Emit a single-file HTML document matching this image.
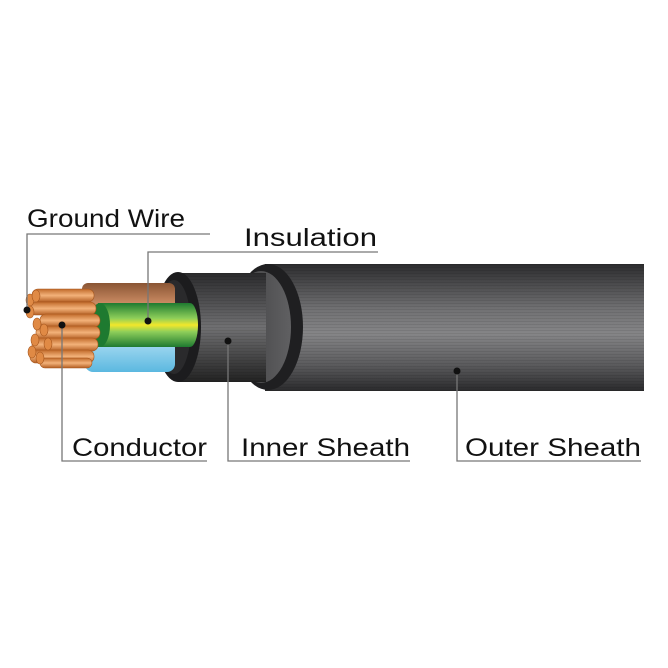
<!DOCTYPE html>
<html><head><style>html,body{margin:0;padding:0;background:#fff}svg{display:block}</style></head>
<body>
<svg width="668" height="668" viewBox="0 0 668 668" xmlns="http://www.w3.org/2000/svg">
<defs>
<linearGradient id="outer" x1="0" y1="0" x2="0" y2="1">
<stop offset="0" stop-color="#2c2c2e"/><stop offset="0.35" stop-color="#707072"/><stop offset="0.55" stop-color="#858587"/><stop offset="0.8" stop-color="#5a5a5c"/><stop offset="1" stop-color="#2a2a2c"/></linearGradient>
<linearGradient id="inner" x1="0" y1="0" x2="0" y2="1">
<stop offset="0" stop-color="#2a2a2c"/><stop offset="0.5" stop-color="#707072"/><stop offset="1" stop-color="#222"/></linearGradient>
<linearGradient id="face" x1="0" y1="0" x2="1" y2="0">
<stop offset="0" stop-color="#3e3e40"/><stop offset="1" stop-color="#606062"/></linearGradient>
<linearGradient id="gy" x1="0" y1="0" x2="0" y2="1">
<stop offset="0" stop-color="#1e7a30"/><stop offset="0.35" stop-color="#8fcf5a"/><stop offset="0.5" stop-color="#f2e72a"/><stop offset="0.65" stop-color="#8fcf5a"/><stop offset="1" stop-color="#1e7a30"/></linearGradient>
<linearGradient id="br" x1="0" y1="0" x2="0" y2="1">
<stop offset="0" stop-color="#8a5534"/><stop offset="0.5" stop-color="#c98a62"/><stop offset="1" stop-color="#a36a45"/></linearGradient>
<linearGradient id="bl" x1="0" y1="0" x2="0" y2="1">
<stop offset="0" stop-color="#a9dcf2"/><stop offset="1" stop-color="#5bb8e0"/></linearGradient>
<linearGradient id="cu" x1="0" y1="0" x2="0" y2="1">
<stop offset="0" stop-color="#c06a2a"/><stop offset="0.5" stop-color="#f3b27a"/><stop offset="1" stop-color="#b35e22"/></linearGradient>
<pattern id="stripes" width="4" height="3" patternUnits="userSpaceOnUse"><rect width="4" height="1" fill="#000" opacity="0.08"/></pattern>
</defs>
<rect x="265" y="264" width="379" height="127" fill="url(#outer)"/>
<rect x="265" y="264" width="379" height="127" fill="url(#stripes)"/>
<ellipse cx="268" cy="327" rx="35" ry="63" fill="#1f1f21"/>
<ellipse cx="261" cy="327" rx="30" ry="56" fill="url(#face)"/>
<rect x="178" y="273" width="88" height="109" fill="url(#inner)"/>
<rect x="178" y="273" width="88" height="109" fill="url(#stripes)"/>
<ellipse cx="178" cy="327" rx="23" ry="55" fill="#1c1c1e"/>
<ellipse cx="174" cy="327" rx="17" ry="47" fill="#2a2a2c"/>
<rect x="82" y="283" width="93" height="40" rx="6" fill="url(#br)"/>
<rect x="85" y="340" width="90" height="32" rx="8" fill="url(#bl)"/>
<path d="M98 303 H190 A8 22 0 0 1 190 347 H98 Z" fill="url(#gy)"/>
<ellipse cx="100" cy="325" rx="10" ry="22" fill="#1e7a30"/>
<g stroke="#a5551c" stroke-width="0.6">
<rect x="32" y="289" width="62" height="13" rx="6" fill="url(#cu)"/>
<rect x="30" y="302" width="66" height="13" rx="6" fill="url(#cu)"/>
<rect x="40" y="314" width="60" height="13" rx="6" fill="url(#cu)"/>
<rect x="36" y="326" width="64" height="13" rx="6" fill="url(#cu)"/>
<rect x="32" y="338" width="66" height="13" rx="6" fill="url(#cu)"/>
<rect x="30" y="350" width="64" height="13" rx="6" fill="url(#cu)"/>
<rect x="40" y="358" width="52" height="10" rx="5" fill="url(#cu)"/>
</g>
<g fill="#e08a45" stroke="#a5551c" stroke-width="0.6">
<ellipse cx="30" cy="300" rx="4" ry="6"/><ellipse cx="36" cy="296" rx="4" ry="6"/><ellipse cx="30" cy="312" rx="4" ry="6"/>
<ellipse cx="37" cy="324" rx="4" ry="6"/><ellipse cx="44" cy="330" rx="4" ry="6"/><ellipse cx="35" cy="340" rx="4" ry="6"/>
<ellipse cx="32" cy="352" rx="4" ry="6"/><ellipse cx="40" cy="358" rx="4" ry="6"/><ellipse cx="48" cy="344" rx="4" ry="6"/>
</g>
<g stroke="#777" stroke-width="1.3" fill="none">
<polyline points="210,234 27,234 27,310"/>
<polyline points="378,252 148,252 148,321"/>
<polyline points="62,325 62,461 207,461"/>
<polyline points="228,341 228,461 410,461"/>
<polyline points="457,371 457,461 641,461"/>
</g>
<g fill="#111">
<circle cx="27" cy="310" r="3.5"/><circle cx="148" cy="321" r="3.5"/><circle cx="62" cy="325" r="3.5"/>
<circle cx="228" cy="341" r="3.5"/><circle cx="457" cy="371" r="3.5"/>
</g>
<g font-family="Liberation Sans, sans-serif" font-size="25" fill="#111">
<text x="27" y="227" textLength="158" lengthAdjust="spacingAndGlyphs">Ground Wire</text>
<text x="244" y="246" textLength="133" lengthAdjust="spacingAndGlyphs">Insulation</text>
<text x="72" y="456" textLength="135" lengthAdjust="spacingAndGlyphs">Conductor</text>
<text x="241" y="456" textLength="169" lengthAdjust="spacingAndGlyphs">Inner Sheath</text>
<text x="465" y="456" textLength="176" lengthAdjust="spacingAndGlyphs">Outer Sheath</text>
</g>
</svg>
</body></html>
